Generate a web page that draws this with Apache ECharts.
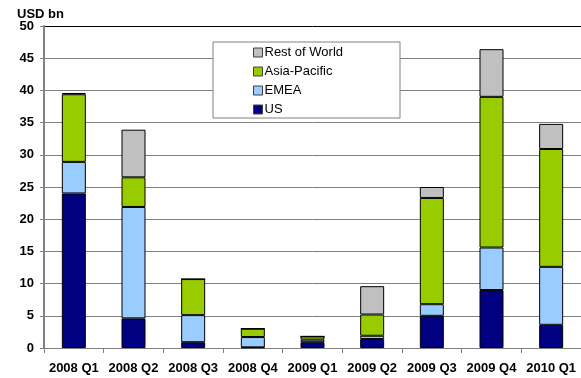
<!DOCTYPE html>
<html>
<head>
<meta charset="utf-8">
<script src="https://cdn.jsdelivr.net/npm/echarts@6/dist/echarts.min.js"></script>
<style>
  html, body { margin: 0; padding: 0; background: #fff; }
  #chart { width: 581px; height: 378px; }
</style>
</head>
<body>
<div id="chart"></div>
<script>
const quarters = ["2008 Q1", "2008 Q2", "2008 Q3", "2008 Q4", "2009 Q1", "2009 Q2", "2009 Q3", "2009 Q4", "2010 Q1"];
const us = [24.0, 4.6, 0.9, 0.1, 0.9, 1.4, 5.0, 9.0, 3.6];
const emea = [4.9, 17.3, 4.2, 1.6, 0.4, 0.5, 1.8, 6.6, 9.0];
const asiaPacific = [10.5, 4.6, 5.6, 1.3, 0.5, 3.3, 16.5, 23.4, 18.3];
const restOfWorld = [0.2, 7.4, 0, 0, 0, 4.4, 1.7, 7.4, 3.9];
const legendOrder = ["Rest of World", "Asia-Pacific", "EMEA", "US"];

const font = "Liberation Sans, Arial, sans-serif";
const myChart = echarts.init(document.getElementById("chart"));

function bar(name, data, color) {
  return {
    type: "bar",
    name: name,
    data: data,
    stack: "total",
    barWidth: 24,
    itemStyle: { color: color, borderColor: "#000", borderWidth: 1 },
  };
}

const gridColors = [];
for (let i = 0; i < 10; i++) gridColors.push("#808080");
gridColors.push("#000");

myChart.setOption({
  animation: false,
  textStyle: { fontFamily: font },
  title: {
    text: "USD bn",
    left: 12,
    top: 3,
    textStyle: { fontSize: 13, fontWeight: "bold", color: "#000", fontFamily: font },
  },
  legend: {
    data: legendOrder,
    orient: "vertical",
    left: 213,
    top: 42,
    itemWidth: 9,
    itemHeight: 9,
    itemGap: 6,
    padding: [4, 57, 2, 40],
    backgroundColor: "#fff",
    borderColor: "#808080",
    borderWidth: 1,
    borderRadius: 0,
    icon: "rect",
    textStyle: { fontSize: 13, color: "#000", fontFamily: font, padding: [0, 0, 0, -3] },
    itemStyle: { borderColor: "#404040", borderWidth: 1 },
  },
  grid: { left: 44, right: -5, top: 26, bottom: 30, containLabel: false },
  xAxis: {
    type: "category",
    data: quarters,
    axisLine: { lineStyle: { color: "#808080", width: 1 } },
    axisTick: { show: true, alignWithLabel: false, length: 5, lineStyle: { color: "#808080" } },
    axisLabel: { fontSize: 13, fontWeight: "bold", color: "#000", margin: 14, interval: 0 },
  },
  yAxis: {
    type: "value",
    min: 0,
    max: 50,
    interval: 5,
    axisLine: { show: true, lineStyle: { color: "#808080", width: 2 } },
    axisTick: { show: true, length: 4, lineStyle: { color: "#808080" } },
    axisLabel: { fontSize: 13, fontWeight: "bold", color: "#000", margin: 10 },
    splitLine: { lineStyle: { color: gridColors, width: 1 } },
  },
  series: [
    bar("US", us, "#000080"),
    bar("EMEA", emea, "#99ccff"),
    bar("Asia-Pacific", asiaPacific, "#99cc00"),
    bar("Rest of World", restOfWorld, "#c0c0c0"),
  ],
});
</script>
</body>
</html>
